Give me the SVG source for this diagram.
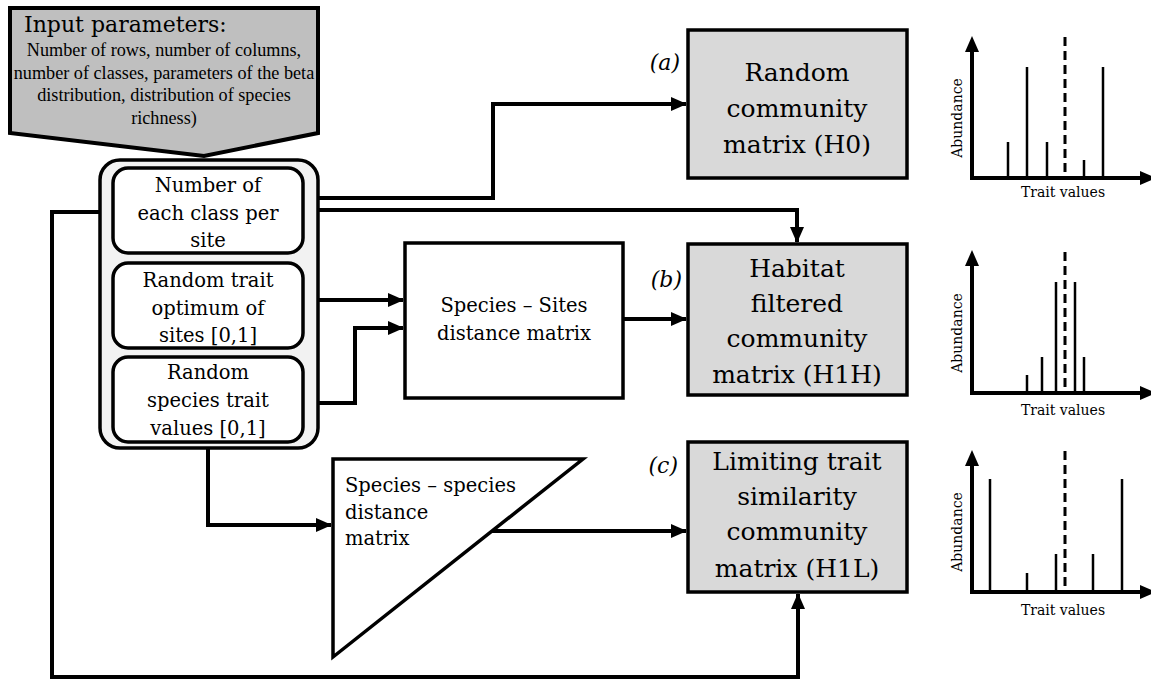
<svg xmlns="http://www.w3.org/2000/svg" width="1151" height="682" viewBox="0 0 1151 682">
  <defs>
    <marker id="arrow" markerUnits="userSpaceOnUse" markerWidth="16" markerHeight="14" refX="15" refY="7" orient="auto">
      <path d="M0,0 L16,7 L0,14 Z" fill="#000"/>
    </marker>
  </defs>
  <style>
    text { font-family: "DejaVu Serif", "Liberation Serif", serif; fill: #000; }
    .inner { fill: #fff; stroke: #000; stroke-width: 3.5; }
    .result { fill: #d9d9d9; stroke: #000; stroke-width: 3.5; }
    .plain { fill: #fff; stroke: #000; stroke-width: 3.5; }
    .t-param { font-family: "Liberation Serif", "DejaVu Serif", serif; font-size: 18.2px; text-anchor: middle; }
    .t-inner { font-size: 19.5px; text-anchor: middle; }
    .t-result { font-size: 25px; text-anchor: middle; }
    .t-mid { font-size: 19.5px; }
    .tag { font-size: 22px; font-style: italic; text-anchor: end; }
    .conn { fill: none; stroke: #000; stroke-width: 4; stroke-linejoin: miter; }
    .axis { fill: none; stroke: #000; stroke-width: 4; }
    .bar { stroke: #000; stroke-width: 2.5; }
    .opt { stroke: #000; stroke-width: 3; stroke-dasharray: 9 5; }
    .t-axis { font-size: 14px; text-anchor: middle; }
  </style>

  <!-- Input parameters banner -->
  <g id="input-parameters">
    <polygon points="10,8 318,8 318,133 204,156 10,133" fill="#bfbfbf" stroke="#000" stroke-width="4"/>
    <text x="24" y="32" style="font-size:22px">Input parameters:</text>
    <text class="t-param" x="164" y="56">Number of rows, number of columns,</text>
    <text class="t-param" x="164" y="79">number of classes, parameters of the beta</text>
    <text class="t-param" x="164" y="101">distribution, distribution of species</text>
    <text class="t-param" x="164" y="124">richness)</text>
  </g>

  <!-- Connectors -->
  <g id="connectors">
    <!-- loop from class counts round to H1L -->
    <polyline class="conn" points="113,212 52,212 52,677 798,677 798,594" marker-end="url(#arrow)"/>
    <!-- class counts to H0 -->
    <polyline class="conn" points="303,198 493,198 493,104 686,104" marker-end="url(#arrow)"/>
    <!-- class counts to H1H -->
    <polyline class="conn" points="303,210 797,210 797,242" marker-end="url(#arrow)"/>
    <!-- trait optimum to species-sites matrix -->
    <polyline class="conn" points="303,300 403,300" marker-end="url(#arrow)"/>
    <!-- species traits to species-sites matrix -->
    <polyline class="conn" points="303,403 355,403 355,328 403,328" marker-end="url(#arrow)"/>
    <!-- species-sites matrix to H1H -->
    <polyline class="conn" points="623,319 686,319" marker-end="url(#arrow)"/>
    <!-- species traits to species-species matrix -->
    <polyline class="conn" points="208,442 208,525 331,525" marker-end="url(#arrow)"/>
    <!-- species-species matrix to H1L -->
    <polyline class="conn" points="472,531 686,531" marker-end="url(#arrow)"/>
  </g>

  <!-- Container of generated inputs -->
  <g id="generated-inputs">
    <rect x="100" y="160" width="218" height="288" rx="20" ry="20" fill="#f2f2f2" stroke="#000" stroke-width="3.5"/>
  </g>

  <g id="class-counts">
    <rect class="inner" x="113" y="168" width="190" height="85" rx="15" ry="15"/>
    <text class="t-inner" x="208" y="192">Number of</text>
    <text class="t-inner" x="208" y="220">each class per</text>
    <text class="t-inner" x="208" y="247">site</text>
  </g>

  <g id="trait-optimum">
    <rect class="inner" x="113" y="263" width="190" height="85" rx="15" ry="15"/>
    <text class="t-inner" x="208" y="287">Random trait</text>
    <text class="t-inner" x="208" y="315">optimum of</text>
    <text class="t-inner" x="208" y="342">sites [0,1]</text>
  </g>

  <g id="species-traits">
    <rect class="inner" x="113" y="357" width="190" height="85" rx="15" ry="15"/>
    <text class="t-inner" x="208" y="379">Random</text>
    <text class="t-inner" x="208" y="407">species trait</text>
    <text class="t-inner" x="208" y="435">values [0,1]</text>
  </g>

  <!-- Distance matrices -->
  <g id="species-sites-matrix">
    <rect class="plain" x="405" y="243" width="218" height="155"/>
    <text class="t-mid" x="514" y="312" text-anchor="middle">Species – Sites</text>
    <text class="t-mid" x="514" y="340" text-anchor="middle">distance matrix</text>
  </g>

  <g id="species-species-matrix">
    <polygon class="plain" points="333,459 583,459 333,657"/>
    <text class="t-mid" x="345" y="492">Species – species</text>
    <text class="t-mid" x="345" y="519">distance</text>
    <text class="t-mid" x="345" y="545">matrix</text>
  </g>

  <!-- Community matrices -->
  <g id="h0">
    <rect class="result" x="688" y="30" width="219" height="148"/>
    <text class="tag" x="680" y="70">(a)</text>
    <text class="t-result" x="797" y="81">Random</text>
    <text class="t-result" x="797" y="117">community</text>
    <text class="t-result" x="797" y="153">matrix (H0)</text>
  </g>

  <g id="h1h">
    <rect class="result" x="688" y="244" width="219" height="151"/>
    <text class="tag" x="682" y="287">(b)</text>
    <text class="t-result" x="797" y="277">Habitat</text>
    <text class="t-result" x="797" y="312">filtered</text>
    <text class="t-result" x="797" y="347">community</text>
    <text class="t-result" x="797" y="383">matrix (H1H)</text>
  </g>

  <g id="h1l">
    <rect class="result" x="688" y="442" width="219" height="150"/>
    <text class="tag" x="678" y="473">(c)</text>
    <text class="t-result" x="797" y="470">Limiting trait</text>
    <text class="t-result" x="797" y="505">similarity</text>
    <text class="t-result" x="797" y="540">community</text>
    <text class="t-result" x="797" y="577">matrix (H1L)</text>
  </g>

  <!-- Abundance plots -->
  <g id="plot-h0">
    <polyline class="axis" points="972,48 972,178 1151,178"/>
    <path d="M965,52 L972,36 L979,52 Z" fill="#000"/>
    <path d="M1140,171 L1156,178 L1140,185 Z" fill="#000"/>
    <line class="bar" x1="1008" y1="178" x2="1008" y2="142"/>
    <line class="bar" x1="1027" y1="178" x2="1027" y2="67"/>
    <line class="bar" x1="1047" y1="178" x2="1047" y2="142"/>
    <line class="opt" x1="1065" y1="37" x2="1065" y2="178"/>
    <line class="bar" x1="1084" y1="178" x2="1084" y2="160"/>
    <line class="bar" x1="1103" y1="178" x2="1103" y2="67"/>
    <text class="t-axis" x="1063" y="197">Trait values</text>
    <text class="t-axis" transform="translate(962,118) rotate(-90)">Abundance</text>
  </g>

  <g id="plot-h1h">
    <polyline class="axis" points="972,262 972,393 1151,393"/>
    <path d="M965,266 L972,250 L979,266 Z" fill="#000"/>
    <path d="M1140,386 L1156,393 L1140,400 Z" fill="#000"/>
    <line class="bar" x1="1027" y1="393" x2="1027" y2="375"/>
    <line class="bar" x1="1042" y1="393" x2="1042" y2="357"/>
    <line class="bar" x1="1056" y1="393" x2="1056" y2="282"/>
    <line class="opt" x1="1065" y1="252" x2="1065" y2="393"/>
    <line class="bar" x1="1075" y1="393" x2="1075" y2="282"/>
    <line class="bar" x1="1084" y1="393" x2="1084" y2="357"/>
    <text class="t-axis" x="1063" y="415">Trait values</text>
    <text class="t-axis" transform="translate(962,333) rotate(-90)">Abundance</text>
  </g>

  <g id="plot-h1l">
    <polyline class="axis" points="972,462 972,592 1151,592"/>
    <path d="M965,466 L972,450 L979,466 Z" fill="#000"/>
    <path d="M1140,585 L1156,592 L1140,599 Z" fill="#000"/>
    <line class="bar" x1="990" y1="592" x2="990" y2="479"/>
    <line class="bar" x1="1027" y1="592" x2="1027" y2="573"/>
    <line class="bar" x1="1056" y1="592" x2="1056" y2="554"/>
    <line class="opt" x1="1065" y1="451" x2="1065" y2="592"/>
    <line class="bar" x1="1093" y1="592" x2="1093" y2="554"/>
    <line class="bar" x1="1122" y1="592" x2="1122" y2="479"/>
    <text class="t-axis" x="1063" y="615">Trait values</text>
    <text class="t-axis" transform="translate(962,532) rotate(-90)">Abundance</text>
  </g>
</svg>
